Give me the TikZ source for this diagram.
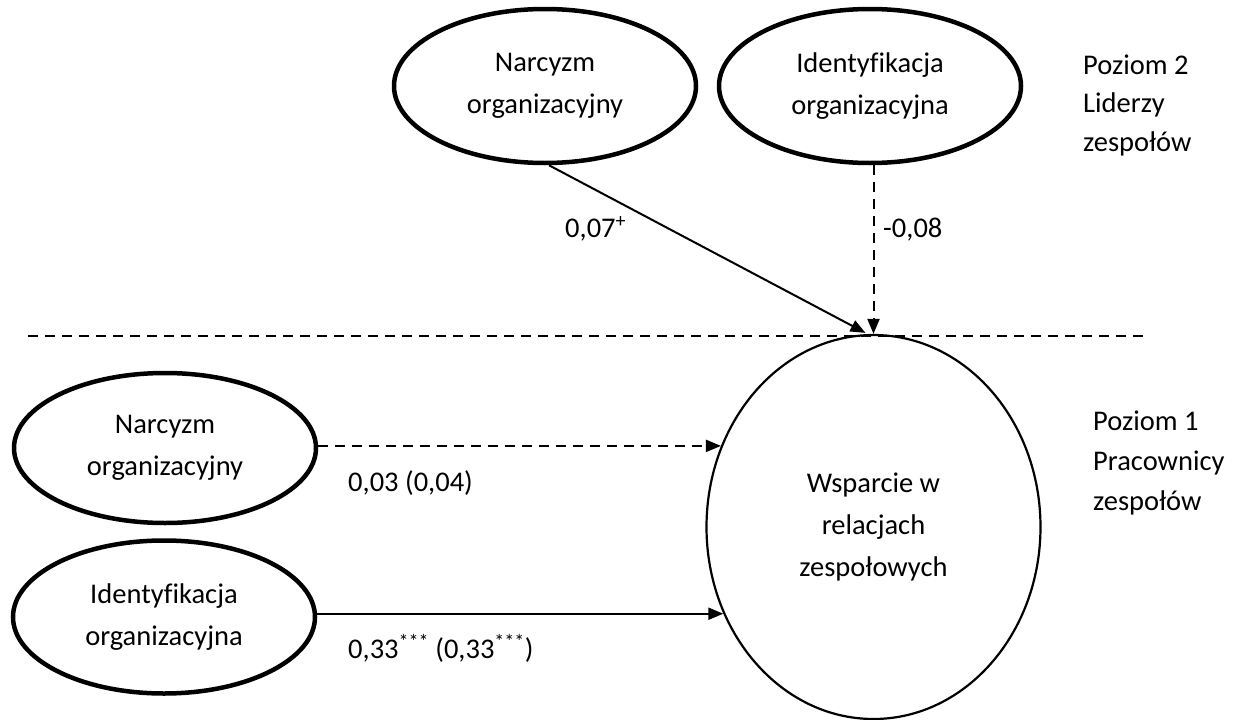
\documentclass[tikz,border=0pt]{standalone}
\usepackage{fontspec}
\setmainfont{Carlito}[Ligatures=NoCommon]
\usetikzlibrary{shapes.geometric,arrows.meta,calc}

\tikzset{
  construct/.style={ellipse, draw, line width=4.5pt, inner sep=0pt,
    minimum width=302pt, align=center},
  outcome/.style={ellipse, draw, line width=2.2pt, inner sep=0pt,
    minimum width=334pt, minimum height=384pt, align=center},
  path effect/.style={line width=2pt, -{Triangle[length=15pt,width=12pt]}},
  weak/.style={path effect, dash pattern=on 10pt off 7pt},
  coef/.style={anchor=base west, inner sep=0pt},
  levelnote/.style={anchor=base west, inner sep=0pt, align=left},
}

\begin{document}
\begin{tikzpicture}[x=1pt, y=-1pt, font=\fontsize{28.5}{42}\selectfont]
  \useasboundingbox (0,0) rectangle (1240,720);

  % level 2: team leaders
  \node[construct, minimum height=154pt] (nlead) at (545,86) {Narcyzm\\organizacyjny};
  \node[construct, minimum height=154pt] (ilead) at (870,86) {Identyfikacja\\organizacyjna};

  % level 1: team members
  \node[construct, minimum height=150pt] (nemp) at (165,448) {Narcyzm\\organizacyjny};
  \node[construct, minimum height=153pt] (iemp) at (164,617) {Identyfikacja\\organizacyjna};

  % outcome
  \node[outcome] (wr) at (873.5,527) {Wsparcie w\\relacjach\\zespołowych};

  % separator between levels
  \coordinate (sepL) at (28,336);
  \coordinate (sepR) at (1149,336);
  \draw[line width=1.8pt, dash pattern=on 10pt off 7pt] (sepL) -- (sepR);

  % cross-level paths
  \coordinate (wrtop) at ($(wr.north)+(-8,-1)$);
  \draw[path effect] ($(nlead.south)+(4,0)$) -- (wrtop);
  \draw[weak] (ilead.south -| wr.north) -- (wr.north);

  % within-level paths
  \draw[weak] (nemp.east |- wr.152.9) -- (wr.152.9);
  \draw[path effect] (iemp.east |- wr.210.6) -- (wr.210.6);

  % coefficients
  \node[coef] (c1) at (565,237) {0,07\textsuperscript{+}};
  \node[coef] (c2) at (883,237) {-0,08};
  \node[coef] (c3) at (348,491) {0,03 (0,04)};
  \node[coef] (c4) at (348,658) {0,33\textsuperscript{***} (0,33\textsuperscript{***})};

  % level descriptions (base anchor sits on the last line)
  \node[levelnote, font=\fontsize{28.5}{38.5}\selectfont] (lv2) at (1083,151) {Poziom 2\\Liderzy\\zespołów};
  \node[levelnote, font=\fontsize{28.5}{40}\selectfont] (lv1) at (1093,510) {Poziom 1\\Pracownicy\\zespołów};
\end{tikzpicture}
\end{document}
